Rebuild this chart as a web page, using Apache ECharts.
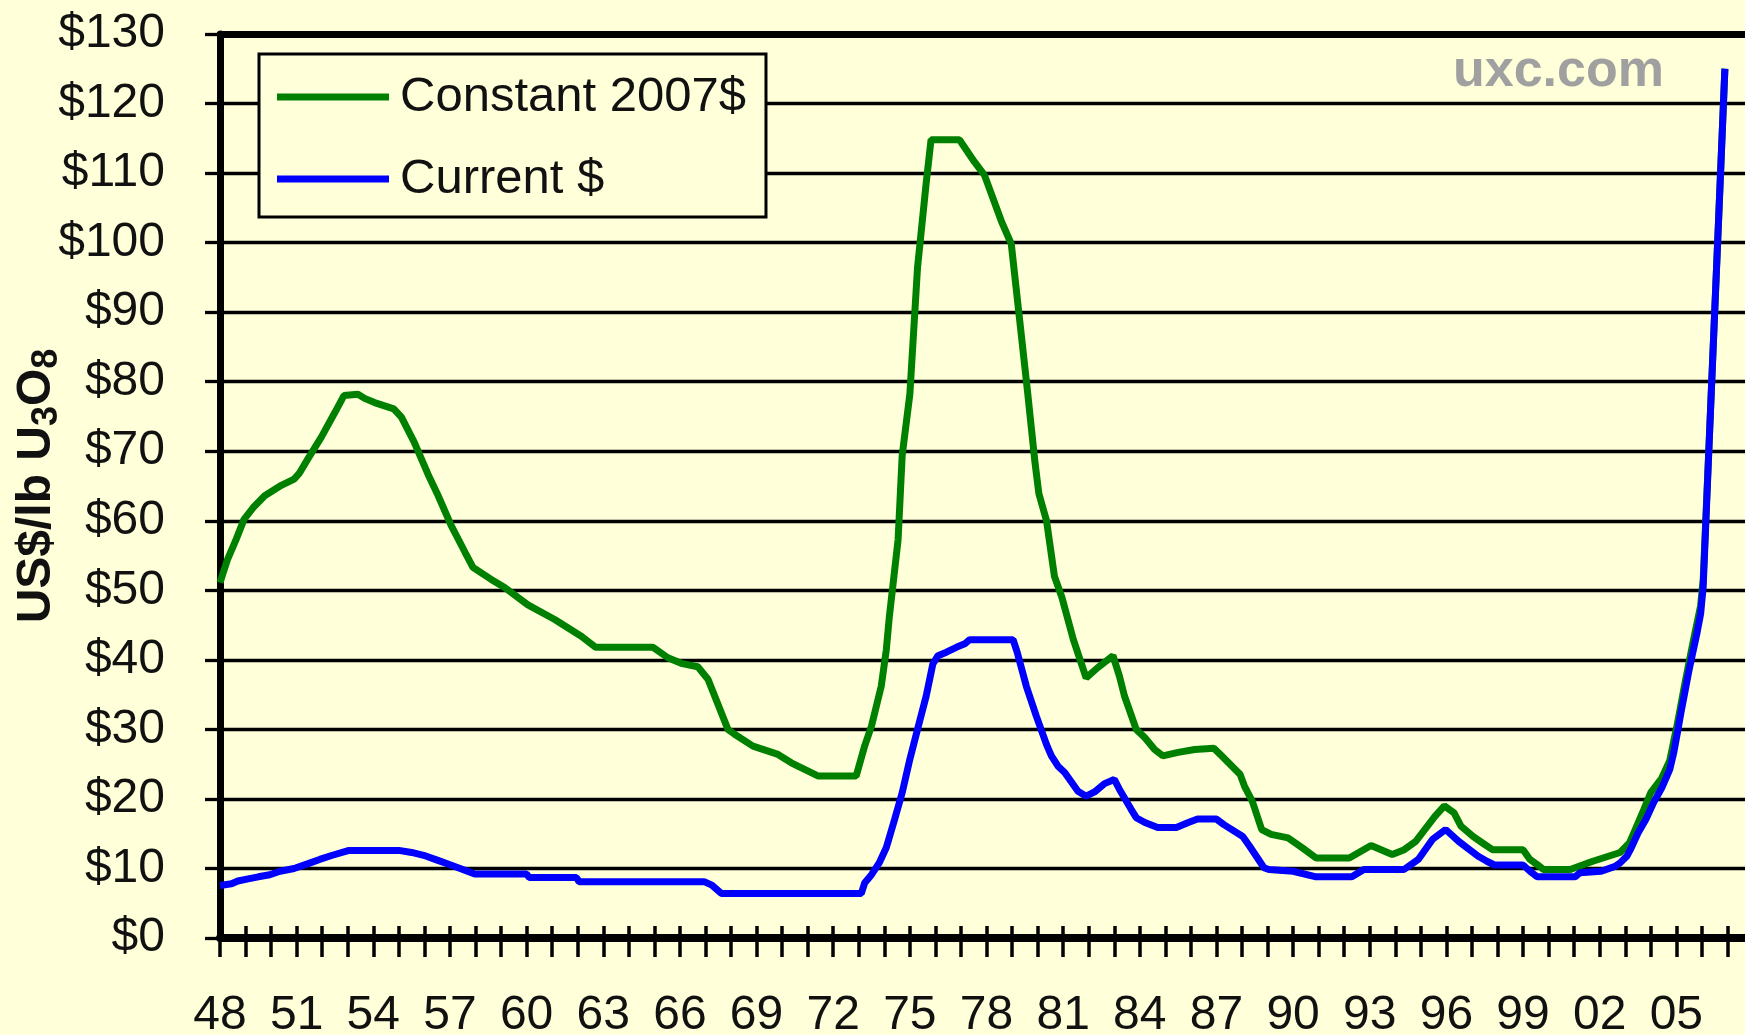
<!DOCTYPE html>
<html>
<head>
<meta charset="utf-8">
<script src="https://cdn.jsdelivr.net/npm/echarts@6/dist/echarts.min.js"></script>
<style>
  html, body { margin: 0; padding: 0; background: #ffffda; }
  #chart { width: 1745px; height: 1035px; }
</style>
</head>
<body>
<div id="chart"></div>
<script>
// uranium spot price, US$/lb U3O8
var constantYears = [1948.0, 1948.3, 1948.64, 1948.94, 1949.3, 1949.75, 1950.4, 1950.9, 1951.1, 1951.44,
  1951.96, 1952.5, 1952.85, 1953.4, 1953.66, 1954.05, 1954.8, 1955.1, 1955.6, 1956.14,
  1956.54, 1957.05, 1957.6, 1957.9, 1958.6, 1959.14, 1960.05, 1961.1, 1962.14, 1962.7,
  1964.95, 1965.53, 1966.05, 1966.7, 1967.1, 1967.88, 1968.14, 1968.86, 1969.84, 1970.36,
  1970.9, 1971.4, 1972.9, 1973.23, 1973.5, 1973.88, 1974.08, 1974.2, 1974.54, 1974.7,
  1975.0, 1975.3, 1975.64, 1975.83, 1976.94, 1977.53, 1977.92, 1978.58, 1978.97, 1979.27,
  1979.6, 1979.9, 1980.05, 1980.35, 1980.66, 1980.95, 1981.4, 1981.9, 1982.36, 1982.95,
  1983.2, 1983.4, 1983.86, 1984.2, 1984.58, 1984.9, 1985.5, 1986.15, 1986.9, 1987.2,
  1987.93, 1988.1, 1988.4, 1988.77, 1989.14, 1989.8, 1990.35, 1990.9, 1992.2, 1993.05,
  1993.88, 1994.35, 1994.8, 1995.55, 1995.92, 1996.3, 1996.57, 1997.04, 1997.4, 1997.8,
  1999.0, 1999.27, 1999.65, 1999.8, 2000.85, 2001.7, 2002.8, 2003.17, 2003.45, 2003.73,
  2004.0, 2004.43, 2004.74, 2005.04, 2005.33, 2005.64, 2005.95, 2006.05, 2006.35, 2006.65, 2006.9];
var constantPrices = [51.1, 54.5, 57.4, 60.2, 61.9, 63.6, 65.1, 66.0, 66.8, 68.9,
  72.0, 75.6, 78.0, 78.2, 77.6, 77.0, 76.1, 74.9, 71.3, 66.7,
  63.6, 59.3, 55.4, 53.3, 51.6, 50.4, 47.9, 45.8, 43.4, 41.8,
  41.8, 40.3, 39.5, 39.0, 37.2, 30.0, 29.3, 27.6, 26.4, 25.2,
  24.2, 23.3, 23.3, 27.6, 30.5, 36.2, 41.5, 46.3, 57.3, 69.4,
  78.2, 96.4, 108.6, 114.8, 114.8, 111.6, 109.7, 103.1, 99.8, 89.8,
  78.8, 68.3, 63.9, 60.0, 52.0, 49.0, 42.9, 37.4, 38.9, 40.6,
  37.7, 34.8, 30.0, 28.8, 27.1, 26.2, 26.7, 27.1, 27.3, 26.2,
  23.5, 21.8, 19.7, 15.6, 14.9, 14.4, 13.0, 11.5, 11.5, 13.3,
  12.0, 12.7, 13.9, 17.5, 19.0, 18.0, 16.1, 14.6, 13.7, 12.7,
  12.7, 11.3, 10.3, 9.85, 9.85, 11.0, 12.3, 13.7, 16.1, 18.5,
  20.9, 23.0, 25.5, 30.8, 36.5, 42.3, 47.8, 51.5, 77, 103, 125];

var currentYears = [1948.0, 1948.45, 1948.7, 1949.1, 1949.5, 1949.95, 1950.35, 1950.9, 1951.45, 1951.9,
  1952.4, 1953.05, 1955.0, 1955.5, 1956.05, 1956.5, 1956.95, 1957.4, 1957.97, 1960.0,
  1960.1, 1961.95, 1962.05, 1966.95, 1967.25, 1967.62, 1973.1, 1973.23, 1973.5, 1973.8,
  1974.08, 1974.4, 1974.7, 1975.0, 1975.3, 1975.64, 1975.9, 1976.1, 1976.43, 1976.82,
  1977.15, 1977.34, 1979.04, 1979.2, 1979.56, 1979.95, 1980.35, 1980.54, 1980.8, 1981.06,
  1981.58, 1981.9, 1982.23, 1982.62, 1983.0, 1983.2, 1983.66, 1983.86, 1984.2, 1984.7,
  1985.43, 1985.9, 1986.26, 1987.0, 1987.29, 1988.03, 1988.3, 1988.86, 1989.05, 1990.0,
  1990.9, 1992.3, 1992.77, 1994.34, 1994.9, 1995.46, 1995.97, 1996.48, 1997.23, 1997.6,
  1997.88, 1999.0, 1999.27, 1999.55, 2001.04, 2001.23, 2002.06, 2002.6, 2002.8, 2003.07,
  2003.2, 2003.5, 2003.8, 2004.1, 2004.43, 2004.74, 2004.9, 2005.04, 2005.18, 2005.33,
  2005.48, 2005.64, 2005.8, 2005.95, 2006.05, 2006.35, 2006.65, 2006.9];
var currentPrices = [7.55, 7.8, 8.2, 8.5, 8.8, 9.1, 9.6, 10.0, 10.7, 11.3,
  11.9, 12.6, 12.6, 12.3, 11.8, 11.2, 10.6, 10.0, 9.2, 9.2,
  8.7, 8.7, 8.1, 8.1, 7.6, 6.4, 6.4, 7.9, 9.1, 10.8,
  13.0, 17.0, 20.9, 25.7, 30.0, 34.8, 39.4, 40.6, 41.1, 41.8,
  42.3, 42.9, 42.9, 41.1, 36.2, 31.9, 27.8, 26.2, 24.7, 23.8,
  21.1, 20.4, 21.0, 22.2, 22.8, 21.4, 18.5, 17.3, 16.6, 15.9,
  15.9, 16.6, 17.1, 17.1, 16.3, 14.6, 13.2, 10.1, 9.85, 9.6,
  8.8, 8.8, 9.85, 9.85, 11.3, 14.2, 15.6, 13.9, 11.8, 11.0,
  10.5, 10.5, 9.6, 8.8, 8.8, 9.4, 9.6, 10.3, 10.8, 11.8,
  12.7, 15.1, 17.0, 19.4, 21.6, 24.2, 26.7, 29.5, 32.4, 35.3,
  38.2, 41.0, 43.7, 46.6, 50.5, 77, 103, 125];

var labelYears = [1948, 1951, 1954, 1957, 1960, 1963, 1966, 1969, 1972, 1975, 1978, 1981,
  1984, 1987, 1990, 1993, 1996, 1999, 2002, 2005];

function pairs(xs, ys) {
  return xs.map(function (x, i) { return [x, ys[i]]; });
}

var font = "'Liberation Sans', Arial, sans-serif";
var chart = echarts.init(document.getElementById('chart'));

var xBase = { type: 'value', min: 1948, max: 2008, interval: 1, splitLine: { show: false } };

chart.setOption({
  backgroundColor: '#ffffda',
  animation: false,
  grid: { left: 220, right: -8, top: 34, bottom: 97, outerBoundsMode: 'none', containLabel: false },
  legend: {
    orient: 'vertical',
    left: 259, top: 54,
    backgroundColor: '#ffffda',
    borderColor: '#000', borderWidth: 3, borderRadius: 0,
    padding: [18, 20, 13, 18],
    itemGap: 32,
    itemWidth: 112, itemHeight: 7,
    icon: 'rect',
    textStyle: { fontFamily: font, fontSize: 49, color: '#111', lineHeight: 50, padding: [0, 0, 0, 6] },
    data: ['Constant 2007$', 'Current $']
  },
  graphic: [{
    type: 'text', left: 1453, top: 46,
    style: { text: 'uxc.com', fontFamily: font, fontSize: 52, fontWeight: 'bold', fill: '#a0a0a0' }
  }],
  xAxis: [
    Object.assign({}, xBase, {
      position: 'bottom',
      axisLine: { show: true, onZero: false, lineStyle: { color: '#000', width: 8 } },
      axisTick: { show: true, inside: false, length: 19, lineStyle: { color: '#000', width: 3.5 } },
      axisLabel: {
        margin: 54, fontFamily: font, fontSize: 48, color: '#111',
        formatter: function (v) {
          if (labelYears.indexOf(v) < 0) return '';
          var s = String(v % 100);
          return s.length < 2 ? '0' + s : s;
        }
      }
    }),
    Object.assign({}, xBase, {
      position: 'bottom',
      axisLine: { show: false, onZero: false },
      axisTick: { show: true, inside: true, length: 12, lineStyle: { color: '#000', width: 3.5 } },
      axisLabel: { show: false }
    }),
    Object.assign({}, xBase, {
      position: 'top',
      axisLine: { show: true, onZero: false, lineStyle: { color: '#000', width: 7 } },
      axisTick: { show: false },
      axisLabel: { show: false }
    })
  ],
  yAxis: {
    type: 'value', min: 0, max: 130, interval: 10,
    name: 'US$/lb U{s|3}O{s|8}',
    nameLocation: 'middle', nameRotate: 90, nameGap: 155, nameMoveOverlap: false,
    nameTextStyle: {
      fontFamily: font, fontSize: 48, fontWeight: 'bold', color: '#111', lineHeight: 56,
      rich: { s: { fontFamily: font, fontSize: 36, fontWeight: 'bold', color: '#111', lineHeight: 36, verticalAlign: 'bottom' } }
    },
    axisLine: { show: true, lineStyle: { color: '#000', width: 7 } },
    axisTick: { show: true, length: 15, lineStyle: { color: '#000', width: 3.3 } },
    axisLabel: {
      margin: 55, fontFamily: font, fontSize: 48, color: '#111',
      formatter: function (v) { return '$' + v; }
    },
    splitLine: { show: true, lineStyle: { color: '#000', width: 3.3 } }
  },
  series: [
    {
      name: 'Constant 2007$', type: 'line', xAxisIndex: 0,
      data: pairs(constantYears, constantPrices),
      showSymbol: false, symbol: 'none',
      itemStyle: { color: '#008000' },
      lineStyle: { color: '#008000', width: 7 }
    },
    {
      name: 'Current $', type: 'line', xAxisIndex: 0,
      data: pairs(currentYears, currentPrices),
      showSymbol: false, symbol: 'none',
      itemStyle: { color: '#0000ff' },
      lineStyle: { color: '#0000ff', width: 7 }
    }
  ]
});
</script>
</body>
</html>
